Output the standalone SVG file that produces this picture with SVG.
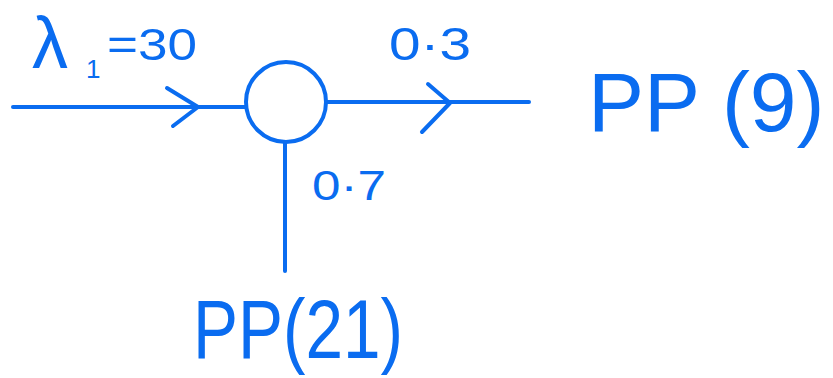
<svg xmlns="http://www.w3.org/2000/svg" width="833" height="378" viewBox="0 0 833 378">
<style>
.ln{fill:none;stroke:#0a6cf0;stroke-width:4;stroke-linecap:round;stroke-linejoin:round}
.t{fill:#0a6cf0;font-family:"Liberation Sans","DejaVu Sans",sans-serif}
</style>
<rect width="833" height="378" fill="#fff"/>
<g id="connectors">
<path class="ln" d="M13 107 H246"/>
<path class="ln" d="M167 88 L198 107 L173 126"/>
<path class="ln" d="M327 102 H529"/>
<path class="ln" d="M428 84 L450 103 L422 132"/>
<path class="ln" d="M285 143 V271"/>
</g>
<g id="node-junction">
<circle class="ln" cx="286" cy="102" r="40"/>
</g>
<g id="label-lambda">
<text class="t" x="32" y="68" font-size="72">λ</text>
<text class="t" x="86" y="78" font-size="26">1</text>
<text class="t" x="107" y="60" font-size="44" textLength="90" lengthAdjust="spacingAndGlyphs">=30</text>
</g>
<g id="label-03">
<text class="t" x="389" y="60" font-size="46" textLength="82" lengthAdjust="spacingAndGlyphs">0·3</text>
</g>
<g id="label-07">
<text class="t" x="312" y="200" font-size="42" textLength="74" lengthAdjust="spacingAndGlyphs">0·7</text>
</g>
<g id="node-pp9">
<text class="t" x="588" y="131" font-size="84">PP (9)</text>
</g>
<g id="node-pp21">
<text class="t" x="193" y="358" font-size="84" textLength="210" lengthAdjust="spacingAndGlyphs">PP(21)</text>
</g>
</svg>
